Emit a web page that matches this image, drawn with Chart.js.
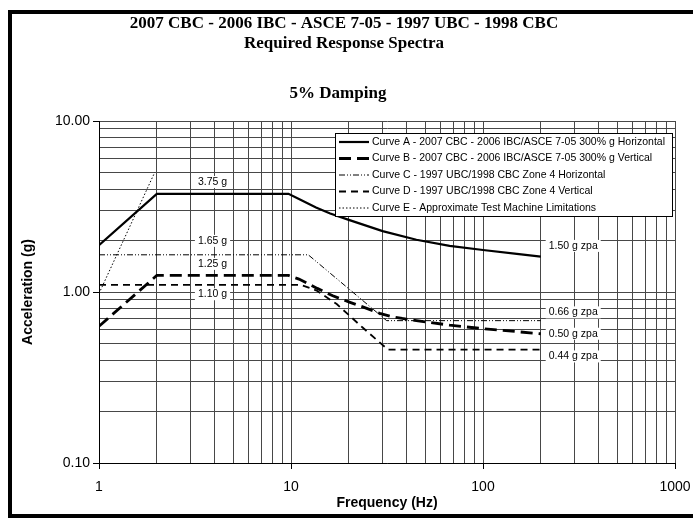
<!DOCTYPE html>
<html>
<head>
<meta charset="utf-8">
<script src="https://cdn.jsdelivr.net/npm/chart.js@4.4.1/dist/chart.umd.min.js"></script>
<style>
html,body{margin:0;padding:0;background:#fff;}
#wrap{width:693px;height:520px;position:relative;}
</style>
</head>
<body>
<div id="wrap"><canvas id="c" width="693" height="520"></canvas></div>
<script>
// ---------- text ----------
const titleLines = ['2007 CBC - 2006 IBC - ASCE 7-05 - 1997 UBC - 1998 CBC', 'Required Response Spectra'];
const subtitleText = '5% Damping';
const xAxisTitle = 'Frequency (Hz)';
const yAxisTitle = 'Acceleration (g)';
const seriesNames = [
  'Curve A - 2007 CBC - 2006 IBC/ASCE 7-05 300% g Horizontal',
  'Curve B - 2007 CBC - 2006 IBC/ASCE 7-05 300% g Vertical',
  'Curve C - 1997 UBC/1998 CBC Zone 4 Horizontal',
  'Curve D - 1997 UBC/1998 CBC Zone 4 Vertical',
  'Curve E - Approximate Test Machine Limitations'
];

// ---------- series (frequency Hz, acceleration g) ----------
const curveA_freq = [1, 2, 9.7, 11, 13.5, 16, 20, 30, 45, 67, 100, 150, 200];
const curveA_acc  = [1.88, 3.75, 3.75, 3.5, 3.12, 2.88, 2.64, 2.27, 2.02, 1.86, 1.76, 1.67, 1.61];

const curveB_freq = [1, 2, 9.7, 11, 13.7, 16.5, 20.3, 25, 29, 33, 38, 45, 67, 100, 200];
const curveB_acc  = [0.63, 1.25, 1.25, 1.19, 1.05, 0.95, 0.87, 0.80, 0.75, 0.72, 0.70, 0.68, 0.64, 0.61, 0.57];

const curveC_freq = [1, 12.3, 31.5, 200];
const curveC_acc  = [1.65, 1.65, 0.68, 0.68];

const curveD_freq = [1, 11.3, 13.6, 17.3, 23.6, 32, 200];
const curveD_acc  = [1.10, 1.10, 1.02, 0.85, 0.62, 0.46, 0.46];

const curveE_freq = [1, 1.95];
const curveE_acc  = [0.98, 5.0];

// ---------- ticks ----------
const xTickValues = [1, 10, 100, 1000];
const xTickLabels = ['1', '10', '100', '1000'];
const yTickValues = [0.1, 1, 10];
const yTickLabels = ['0.10', '1.00', '10.00'];

// ---------- value annotations ----------
const annoTexts = ['3.75 g', '1.65 g', '1.25 g', '1.10 g', '1.50 g zpa', '0.66 g zpa', '0.50 g zpa', '0.44 g zpa'];
const annoFreq  = [3.9, 3.9, 3.9, 3.9, 295, 295, 295, 295];
const annoAcc   = [4.4, 1.99, 1.46, 0.97, 1.86, 0.76, 0.57, 0.42];

// ---------- helpers ----------
function gridValues(minV, maxV) {
  const out = [];
  for (let d = minV; d < maxV * 0.999; d *= 10) {
    for (let m = 1; m <= 9; m++) out.push(+(m * d).toPrecision(6));
  }
  out.push(maxV);
  return out;
}
function isDecade(v) {
  const l = Math.log10(v);
  return Math.abs(l - Math.round(l)) < 1e-6;
}
function labelFor(values, labels, v) {
  const i = values.findIndex(t => Math.abs(t - v) / t < 1e-6);
  return i >= 0 ? labels[i] : '';
}
function pts(f, a) { return f.map((x, i) => ({x: x, y: a[i]})); }

const SANS = '"Liberation Sans", Arial, sans-serif';
const SERIF = '"Liberation Serif", "Times New Roman", serif';

const styles = [
  {width: 2.2, dash: []},
  {width: 2.8, dash: [12, 6]},
  {width: 1, dash: [6, 2, 1, 2, 1, 2]},
  {width: 1.8, dash: [7, 5]},
  {width: 1, dash: [1.5, 2]}
];
const seriesData = [
  pts(curveA_freq, curveA_acc),
  pts(curveB_freq, curveB_acc),
  pts(curveC_freq, curveC_acc),
  pts(curveD_freq, curveD_acc),
  pts(curveE_freq, curveE_acc)
];

const datasets = seriesData.map((d, i) => ({
  label: seriesNames[i],
  data: d,
  borderColor: '#000',
  backgroundColor: '#000',
  borderWidth: styles[i].width,
  borderDash: styles[i].dash,
  pointRadius: 0,
  fill: false,
  tension: 0
}));

const decor = {
  id: 'decor',
  beforeDraw(chart) {
    const c = chart.ctx;
    c.save();
    c.fillStyle = '#fff';
    c.fillRect(0, 0, chart.width, chart.height);
    c.restore();
  },
  afterDatasetsDraw(chart) {
    const c = chart.ctx;
    const xs = chart.scales.x, ys = chart.scales.y;
    c.save();
    // value annotations
    c.font = '10.5px ' + SANS;
    c.textAlign = 'center';
    c.textBaseline = 'middle';
    annoTexts.forEach((t, i) => {
      const px = xs.getPixelForValue(annoFreq[i]);
      const py = ys.getPixelForValue(annoAcc[i]);
      const w = c.measureText(t).width;
      c.fillStyle = '#fff';
      c.fillRect(px - w / 2 - 3, py - 6, w + 6, 12);
      c.fillStyle = '#000';
      c.fillText(t, px, py);
    });
    // legend box
    const lx = 335, ly = 133, lw = 337, lh = 83;
    c.fillStyle = '#fff';
    c.fillRect(lx, ly, lw, lh);
    c.strokeStyle = '#000';
    c.lineWidth = 1;
    c.setLineDash([]);
    c.strokeRect(lx + 0.5, ly + 0.5, lw, lh);
    c.font = '10.5px ' + SANS;
    c.textAlign = 'left';
    c.textBaseline = 'middle';
    chart.data.datasets.forEach((ds, i) => {
      const yy = ly + 9 + i * 16.5;
      c.save();
      c.strokeStyle = '#000';
      c.lineWidth = ds.borderWidth;
      c.setLineDash(ds.borderDash);
      c.beginPath();
      c.moveTo(lx + 4, yy);
      c.lineTo(lx + 34, yy);
      c.stroke();
      c.restore();
      c.fillStyle = '#000';
      c.fillText(ds.label, lx + 37, yy);
    });
    c.restore();
  },
  afterDraw(chart) {
    const c = chart.ctx;
    c.save();
    c.fillStyle = '#000';
    c.textAlign = 'center';
    c.textBaseline = 'middle';
    c.font = 'bold 17px ' + SERIF;
    c.fillText(titleLines[0], 344, 24);
    c.fillText(titleLines[1], 344, 44);
    c.fillText(subtitleText, 338, 94);
    // page frame
    c.strokeStyle = '#000';
    c.lineWidth = 4;
    c.beginPath();
    c.moveTo(10, 12); c.lineTo(693, 12);
    c.moveTo(10, 10); c.lineTo(10, 518);
    c.moveTo(10, 516); c.lineTo(693, 516);
    c.stroke();
    c.restore();
  }
};

const gridColor = '#484848';

new Chart(document.getElementById('c'), {
  type: 'line',
  data: {datasets: datasets},
  options: {
    responsive: false,
    animation: false,
    devicePixelRatio: 1,
    layout: {padding: {top: 121, right: 18, left: 0, bottom: 0}},
    plugins: {legend: {display: false}, tooltip: {enabled: false}},
    scales: {
      x: {
        type: 'logarithmic',
        min: 1, max: 1000,
        afterBuildTicks: s => { s.ticks = gridValues(1, 1000).map(v => ({value: v})); },
        afterFit: s => { s.height = 57; s.paddingRight = 0; s.paddingLeft = 0; },
        ticks: {
          autoSkip: false, maxRotation: 0, minRotation: 0,
          padding: 10, color: '#000',
          font: {family: SANS, size: 14},
          callback: v => labelFor(xTickValues, xTickLabels, v)
        },
        grid: {
          color: gridColor, lineWidth: 1, tickLength: 6,
          tickColor: ctx => (ctx.tick && isDecade(ctx.tick.value)) ? '#000' : 'rgba(0,0,0,0)'
        },
        border: {display: true, color: '#000', width: 1},
        title: {display: true, text: xAxisTitle, color: '#000',
          font: {family: SANS, size: 14, weight: 'bold'}, padding: {top: 0, bottom: 8}}
      },
      y: {
        type: 'logarithmic',
        min: 0.1, max: 10,
        afterBuildTicks: s => { s.ticks = gridValues(0.1, 10).map(v => ({value: v})); },
        afterFit: s => { s.width = 99; s.paddingTop = 0; s.paddingBottom = 0; },
        ticks: {
          autoSkip: false, padding: 3, color: '#000',
          font: {family: SANS, size: 14},
          callback: v => labelFor(yTickValues, yTickLabels, v)
        },
        grid: {
          color: gridColor, lineWidth: 1, tickLength: 6,
          tickColor: ctx => (ctx.tick && isDecade(ctx.tick.value)) ? '#000' : 'rgba(0,0,0,0)'
        },
        border: {display: true, color: '#000', width: 1},
        title: {display: true, text: yAxisTitle, color: '#000',
          font: {family: SANS, size: 14, weight: 'bold'}, padding: {top: 20, bottom: 0}}
      }
    }
  },
  plugins: [decor]
});
</script>
</body>
</html>
